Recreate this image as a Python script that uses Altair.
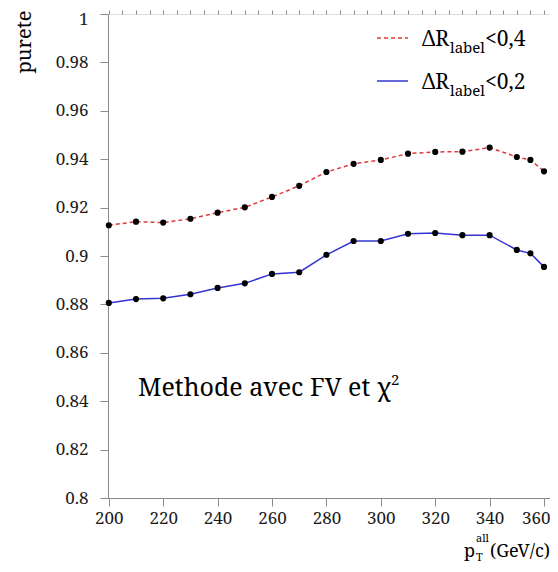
import altair as alt
import pandas as pd

# ---- data ----
pt = [200, 210, 220, 230, 240, 250, 260, 270, 280, 290, 300, 310, 320, 330, 340, 350, 355, 360]
purete_04 = [0.9127, 0.9142, 0.9138, 0.9154, 0.9179, 0.9201, 0.9244, 0.9290, 0.9347, 0.9381,
             0.9397, 0.9423, 0.9430, 0.9431, 0.9448, 0.9409, 0.9397, 0.9350]
purete_02 = [0.8806, 0.8822, 0.8825, 0.8842, 0.8868, 0.8887, 0.8926, 0.8933, 0.9005, 0.9062,
             0.9062, 0.9092, 0.9095, 0.9086, 0.9086, 0.9025, 0.9011, 0.8955]
series_names = ["dR04", "dR02"]
legend_labels = ["<0,4", "<0,2"]

x_major = [200, 220, 240, 260, 280, 300, 320, 340, 360]
x_minor = list(range(200, 365, 5))
y_major = [round(0.8 + 0.02 * i, 2) for i in range(11)]
y_minor = [round(0.8 + 0.004 * i, 3) for i in range(51)]

FONT = "Noto Serif, DejaVu Serif"
RED = "#dd3b3b"
BLUE = "#3434d2"
W, H = 442, 484

df = pd.DataFrame({
    "pt": pt * 2,
    "purete": purete_04 + purete_02,
    "serie": [series_names[0]] * len(pt) + [series_names[1]] * len(pt),
})

xs = alt.Scale(domain=[199.7, 362.2], nice=False, zero=False)
ys = alt.Scale(domain=[0.8, 1.0], nice=False, zero=False)

axis_common = dict(grid=False, domainColor="#8a8a8a", tickColor="#8a8a8a",
                   labelFont=FONT, labelColor="#1a1a1a", labelFontSize=17,
                   title=None, domainWidth=1, tickWidth=1, labelFlush=False)

x_major_axis = alt.Axis(
    values=x_major, format="d", tickSize=8, labelPadding=4,
    labelAlign={"condition": {"test": "datum.value == 360", "value": "right"}, "value": "center"},
    labelOffset={"condition": {"test": "datum.value == 360", "value": 6}, "value": 0},
    **axis_common)
y_major_axis = alt.Axis(
    values=y_major, format=".2~f", tickSize=8, labelPadding=12,
    labelOffset={"condition": {"test": "datum.value == 1", "value": 5}, "value": 0},
    **axis_common)
x_minor_axis = alt.Axis(values=x_minor, labels=False, domain=False, ticks=True, tickSize=4,
                        grid=False, tickColor="#8a8a8a", title=None)
y_minor_axis = alt.Axis(values=y_minor, labels=False, domain=False, ticks=True, tickSize=4,
                        grid=False, tickColor="#8a8a8a", title=None)

base = alt.Chart(df)

red_line = base.transform_filter(alt.datum.serie == series_names[0]).mark_line(
    color=RED, strokeWidth=1.5, strokeDash=[4, 3]
).encode(
    x=alt.X("pt:Q", scale=xs, axis=x_major_axis),
    y=alt.Y("purete:Q", scale=ys, axis=y_major_axis),
)

blue_line = base.transform_filter(alt.datum.serie == series_names[1]).mark_line(
    color=BLUE, strokeWidth=1.5
).encode(
    x=alt.X("pt:Q", scale=xs, axis=None),
    y=alt.Y("purete:Q", scale=ys, axis=None),
)

points = base.mark_circle(size=38, color="black", opacity=1).encode(
    x=alt.X("pt:Q", scale=xs, axis=x_minor_axis),
    y=alt.Y("purete:Q", scale=ys, axis=y_minor_axis),
)


def txt(s, x, y, size, angle=0, align="left", color="black"):
    kw = dict(text=s, font=FONT, fontSize=size, align=align, baseline="alphabetic", color=color)
    if angle:
        kw["angle"] = angle
    return alt.Chart(pd.DataFrame({"k": [0]})).mark_text(**kw).encode(
        x=alt.value(x), y=alt.value(y)
    )


def seg(x1, x2, y, color, dash=None):
    kw = dict(color=color, strokeWidth=1.5)
    if dash:
        kw["strokeDash"] = dash
    return alt.Chart(pd.DataFrame({"k": [0]})).mark_rule(**kw).encode(
        x=alt.value(x1), x2=alt.value(x2), y=alt.value(y)
    )


decor = [
    # y title
    txt("purete", -77, 28, 20, angle=270, align="center"),
    # x title  p_T^all (GeV/c)
    txt("p", 356, 543, 18),
    txt("all", 368, 528, 11),
    txt("T", 368, 547, 11),
    txt("(GeV/c)", 442, 543, 18, align="right"),
    # legend
    seg(269, 300, 24, RED, [4, 3]),
    txt("\u0394R", 314, 32, 21),
    txt("label", 342, 39, 15),
    txt(legend_labels[0], 377, 32, 21),
    seg(269, 300, 67, BLUE),
    txt("\u0394R", 314, 75, 21),
    txt("label", 342, 82, 15),
    txt(legend_labels[1], 377, 75, 21),
    # annotation
    txt("Methode avec FV et \u03c7", 30, 382, 25),
    txt("2", 283, 371, 15),
]

chart = alt.layer(red_line, blue_line, points, *decor).resolve_axis(
    x="independent", y="independent"
).properties(
    width=W, height=H,
    autosize=alt.AutoSizeParams(type="none"),
    padding={"left": 100, "top": 6, "right": 0, "bottom": 66},
).configure_view(
    stroke="#c8c8c8", strokeWidth=1
).configure(background="white")

chart.save("out.html", embed_options={"renderer": "svg", "actions": False})
